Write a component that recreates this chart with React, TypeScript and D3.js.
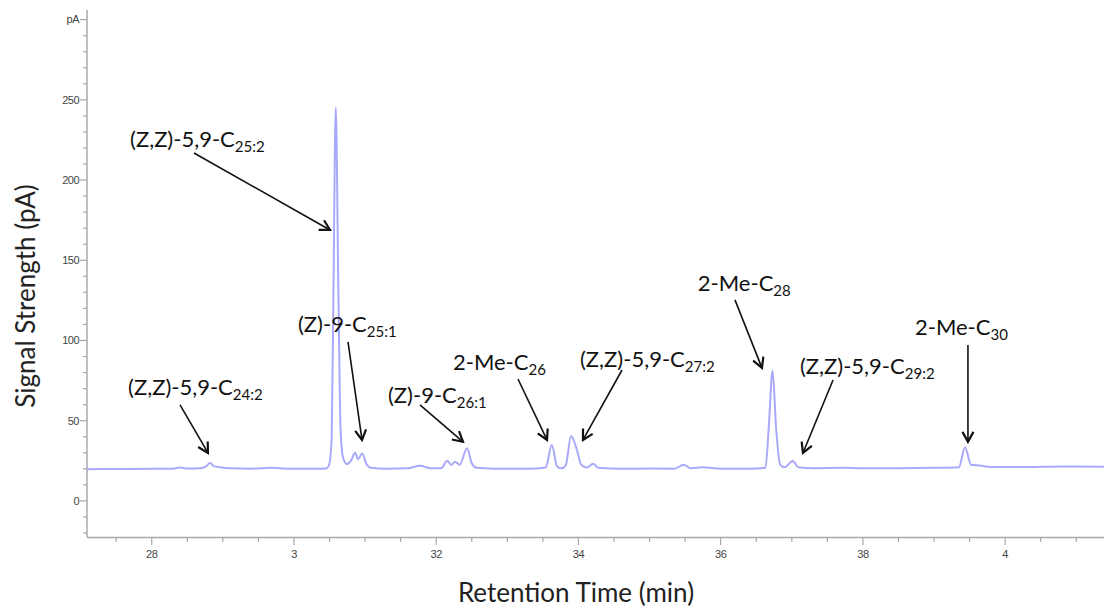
import { useMemo } from "react"
import * as d3 from "d3"

// retention time (min) and detector signal (pA)
const times = [
  2.709, 2.75, 2.8, 2.83, 2.84, 2.85, 2.868, 2.876, 2.882, 2.888, 2.896, 2.91, 2.94, 2.97, 2.99,
  3.03, 3.045, 3.049, 3.053, 3.0555, 3.0588, 3.0625, 3.0655, 3.069, 3.074, 3.08, 3.086, 3.09,
  3.096, 3.102, 3.108, 3.13, 3.16, 3.177, 3.192, 3.207, 3.2155, 3.221, 3.2265, 3.233, 3.2435,
  3.25, 3.257, 3.28, 3.33, 3.354, 3.3626, 3.37, 3.376, 3.382, 3.3897, 3.3977, 3.404, 3.412,
  3.4207, 3.428, 3.46, 3.5, 3.535, 3.548, 3.558, 3.575, 3.6, 3.64, 3.663, 3.6675, 3.673, 3.678,
  3.6837, 3.69, 3.7015, 3.709, 3.73, 3.772, 3.8, 3.85, 3.9, 3.935, 3.9436, 3.952, 3.965, 3.98,
  4.03, 4.08, 4.139,
]
const signal = [
  19.8, 19.9, 20.0, 20.1, 20.9, 20.2, 20.4, 21.4, 23.6, 21.5, 21.0, 20.4, 20.1, 20.6, 20.0,
  20.0, 20.2, 22, 38, 130, 245, 130, 45, 27, 23, 25, 30, 26,
  29.5, 23, 20.6, 20.0, 20.3, 21.9, 20.4, 20.4, 25.0, 22.5, 24.4, 22.5, 32.8,
  23.5, 20.6, 20.1, 20.0, 20.8, 34.9, 21.5, 20.3, 22, 40.5, 32, 22.5, 20.8,
  23.2, 20.6, 20.0, 20.2, 20.1, 22.5, 20.4, 21.0, 20.1, 20.1, 20.6, 45, 81.2, 45,
  22.5, 21, 24.9, 21.0, 20.4, 20.6, 20.3, 20.4, 20.6, 21.0, 33.4, 22.5, 22.0, 21.2,
  21.2, 21.5, 21.3,
]

const xTicks = [2.8, 3.0, 3.2, 3.4, 3.6, 3.8, 4.0]
const xTickLabels = ["28", "3", "32", "34", "36", "38", "4"]
const yTicks = [0, 50, 100, 150, 200, 250, 300]
const yTickLabels = ["0", "50", "100", "150", "200", "250", "pA"]

// compound names (main part + subscript)
const names = [
  ["(Z,Z)-5,9-C", "24:2"],
  ["(Z,Z)-5,9-C", "25:2"],
  ["(Z)-9-C", "25:1"],
  ["(Z)-9-C", "26:1"],
  ["2-Me-C", "26"],
  ["(Z,Z)-5,9-C", "27:2"],
  ["2-Me-C", "28"],
  ["(Z,Z)-5,9-C", "29:2"],
  ["2-Me-C", "30"],
]
// label anchor, arrow tail, arrow tip, all in data units [min, pA]
const labelAt = [
  [2.7667, 70.4], [2.7695, 225.0], [3.0057, 109.7], [3.1322, 65.4], [3.2236, 86.0],
  [3.4022, 87.8], [3.5679, 135.2], [3.7115, 83.5], [3.8732, 107.8],
]
const arrowFrom = [
  [2.8398, 59.8], [2.8594, 216.9], [3.076, 99.1], [3.1772, 59.8], [3.315, 76.0],
  [3.4613, 81.6], [3.6201, 125.3], [3.758, 75.4], [3.9477, 97.2],
]
const arrowTo = [
  [2.8791, 29.9], [3.0507, 168.9], [3.0957, 38.0], [3.2377, 36.8], [3.3558, 38.0],
  [3.4064, 38.0], [3.658, 82.9], [3.7157, 29.9], [3.9477, 36.8],
]

const W = 1104
const H = 613

export default function App() {
  const x = d3.scaleLinear().domain([2.709, 4.139]).range([87, 1104])
  const y = d3.scaleLinear().domain([-22.5, 306]).range([537, 10])

  const path = useMemo(() => {
    const line = d3.line<number>()
      .x((_, i) => x(times[i]))
      .y(d => y(d))
      .curve(d3.curveMonotoneX)
    return line(signal) || ""
  }, [])

  const xMinor = d3.range(2.75, 4.14, 0.05).map(v => +v.toFixed(2))
  const yMinor = d3.range(-20, 301, 10)
  const axisColor = "#a8a8a8"
  const tickFont = "'Liberation Sans', Arial, sans-serif"
  const labelFont = "Lato, 'Open Sans', sans-serif"

  return (
    <svg width={W} height={H} style={{ position: "absolute", left: 0, top: 0, background: "#fff" }}>
      <defs>
        <marker id="head" markerUnits="userSpaceOnUse" viewBox="0 0 14 14" refX="12" refY="7"
          markerWidth="14" markerHeight="14" orient="auto">
          <path d="M2,1.5 L12,7 L2,12.5" fill="none" stroke="#111" strokeWidth="2.2" />
        </marker>
      </defs>

      {/* y axis */}
      <line x1={87} x2={87} y1={y(306)} y2={y(-22.5)} stroke={axisColor} strokeWidth={1.5} />
      {yMinor.map(v => (
        <line key={"ym" + v} x1={v % 50 === 0 ? 80 : 83} x2={87} y1={y(v)} y2={y(v)}
          stroke={axisColor} strokeWidth={1.2} />
      ))}
      {yTicks.map((v, i) => (
        <text key={"yt" + v} x={79} y={y(v)} dy="0.35em" textAnchor="end" fontFamily={tickFont}
          fontSize={11} fill="#444" letterSpacing="-0.5">{yTickLabels[i]}</text>
      ))}

      {/* x axis */}
      <line x1={87} x2={W} y1={537.5} y2={537.5} stroke={axisColor} strokeWidth={1.5} />
      {xMinor.map(v => (
        <line key={"xm" + v} x1={x(v)} x2={x(v)} y1={537.5}
          y2={xTicks.some(t => Math.abs(t - v) < 1e-6) ? 545 : 542}
          stroke={axisColor} strokeWidth={1.2} />
      ))}
      {xTicks.map((v, i) => (
        <text key={"xt" + v} x={x(v)} y={558} textAnchor="middle" fontFamily={tickFont}
          fontSize={11} fill="#444" letterSpacing="-0.5">{xTickLabels[i]}</text>
      ))}

      {/* axis titles */}
      <text x={576} y={602} textAnchor="middle" fontFamily={labelFont} fontSize={26} fill="#222">
        Retention Time (min)
      </text>
      <text transform="translate(35,296) rotate(-90)" textAnchor="middle" fontFamily={labelFont}
        fontSize={26} fill="#222">Signal Strength (pA)</text>

      {/* trace */}
      <path d={path} fill="none" stroke="#a9a9fb" strokeWidth={2} strokeLinejoin="round" />

      {/* annotations */}
      {names.map((n, i) => (
        <g key={"a" + i}>
          <text x={x(labelAt[i][0])} y={y(labelAt[i][1]) + 7} fontFamily={labelFont} fontSize={22}
            fill="#111">
            {n[0]}
            <tspan fontSize={15} dy={5}>{n[1]}</tspan>
          </text>
          <line x1={x(arrowFrom[i][0])} y1={y(arrowFrom[i][1])} x2={x(arrowTo[i][0])}
            y2={y(arrowTo[i][1])} stroke="#111" strokeWidth={1.6} markerEnd="url(#head)" />
        </g>
      ))}
    </svg>
  )
}
